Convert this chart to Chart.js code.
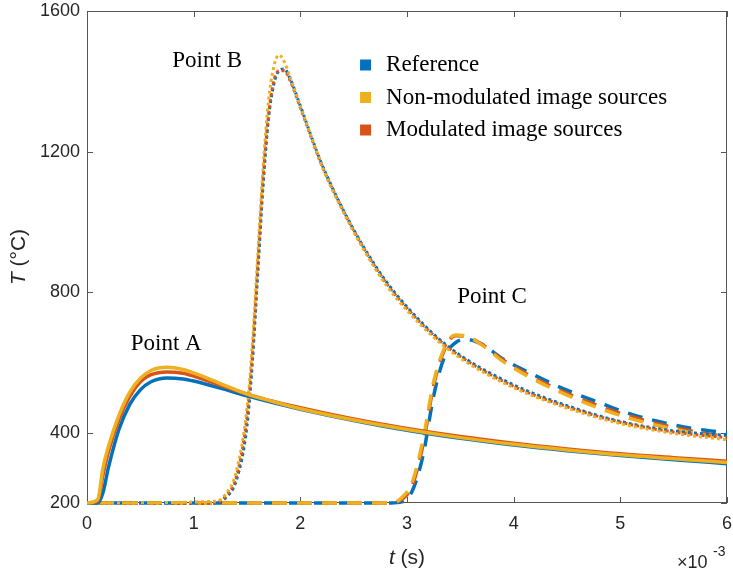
<!DOCTYPE html>
<html>
<head>
<meta charset="utf-8">
<script src="https://cdn.jsdelivr.net/npm/chart.js@4.4.0/dist/chart.umd.min.js"></script>
<style>
  html, body { margin: 0; padding: 0; background: #fff; }
  #wrap { width: 733px; height: 575px; }
</style>
</head>
<body>
<div id="wrap"><canvas id="myChart" width="733" height="575"></canvas></div>
<script>
// time in ms (axis shows x10^-3 s)
const tA = [0, 0.1, 0.15, 0.2, 0.3, 0.4, 0.5, 0.6, 0.75, 0.9, 1.0, 1.25, 1.5, 1.75, 2.0, 2.5, 3.0, 3.5, 4.0, 4.5, 5.0, 5.5, 6.0];
const refA = [200, 200, 230, 300, 410, 480, 522, 545, 556, 553, 547, 527, 505, 485, 467, 435, 407, 384, 365, 349, 335, 323, 312];
const nonModA = [200, 210, 300, 360, 450, 515, 555, 577, 586, 580, 570, 540, 510, 488, 468, 436, 409, 386, 367, 351, 337, 326, 315];
const modA = [200, 205, 280, 345, 438, 503, 545, 565, 573, 569, 561, 535, 510, 489, 471, 439, 412, 389, 370, 354, 340, 329, 319];

const tB = [0, 1.2, 1.3, 1.4, 1.5, 1.55, 1.6, 1.65, 1.7, 1.75, 1.8, 1.85, 1.9, 2.0, 2.1, 2.2, 2.4, 2.6, 2.8, 3.0, 3.25, 3.5, 4.0, 4.5, 5.0, 5.5, 6.0];
const refB = [200, 200, 215, 265, 420, 600, 850, 1100, 1290, 1390, 1430, 1435, 1410, 1330, 1245, 1165, 1035, 925, 832, 758, 680, 620, 536, 477, 432, 405, 392];
const nonModB = [200, 205, 225, 290, 470, 650, 900, 1150, 1340, 1440, 1475, 1455, 1415, 1330, 1245, 1160, 1030, 918, 822, 748, 672, 612, 528, 470, 426, 398, 380];
const modB = [200, 200, 220, 275, 445, 620, 870, 1120, 1300, 1400, 1430, 1430, 1405, 1325, 1242, 1162, 1033, 922, 828, 754, 677, 617, 532, 474, 430, 402, 386];

const tC = [0, 2.85, 2.95, 3.05, 3.15, 3.25, 3.35, 3.45, 3.55, 3.7, 3.9, 4.2, 4.5, 4.8, 5.1, 5.4, 5.7, 6.0];
const refC = [200, 200, 203, 235, 335, 505, 615, 655, 666, 652, 610, 563, 521, 486, 453, 429, 411, 400];
const nonModC = [200, 200, 215, 260, 380, 545, 640, 678, 675, 650, 603, 550, 507, 470, 440, 417, 398, 385];
const modC = [200, 200, 210, 250, 365, 535, 635, 676, 674, 652, 607, 555, 512, 476, 446, 422, 403, 389];

const xTicks = [0, 1, 2, 3, 4, 5, 6];
const yTicks = [200, 400, 800, 1200, 1600];
const seriesNames = ['Reference', 'Non-modulated image sources', 'Modulated image sources'];
const pointLabels = ['Point A', 'Point B', 'Point C'];

const BLUE = '#0072BD', YELLOW = '#EDB120', ORANGE = '#D95319';
const AXIS = '#555555';

function pts(t, v) { return t.map((x, i) => ({ x: x, y: v[i] })); }

function ds(label, t, v, color, kind, offset) {
  const d = {
    label: label,
    data: pts(t, v),
    borderColor: color,
    backgroundColor: color,
    pointRadius: 0,
    fill: false,
    clip: 3,
    cubicInterpolationMode: 'monotone',
    borderCapStyle: 'butt'
  };
  if (kind === 'solid') { d.borderWidth = 3.5; }
  if (kind === 'dot') { d.borderWidth = 3; d.borderDash = [3, 3]; d.borderDashOffset = offset || 0; }
  if (kind === 'dash') { d.borderWidth = 3.5; d.borderDash = [15, 10]; d.borderDashOffset = offset || 0; }
  return d;
}

function noPad(s) { s.paddingLeft = 0; s.paddingRight = 0; s.paddingTop = 0; s.paddingBottom = 0; }

// box and inside ticks go under the lines
const axesBox = {
  id: 'axesBox',
  beforeDatasetsDraw(chart) {
    const c = chart.ctx, a = chart.chartArea;
    const xs = chart.scales.x, ys = chart.scales.y;
    c.save();
    c.strokeStyle = AXIS;
    c.lineWidth = 1;
    c.strokeRect(a.left + 0.5, a.top + 0.5, a.right - a.left - 1, a.bottom - a.top - 1);
    c.beginPath();
    xTicks.forEach(v => {
      const px = Math.round(xs.getPixelForValue(v)) + 0.5;
      c.moveTo(px, a.bottom); c.lineTo(px, a.bottom - 6);
      c.moveTo(px, a.top); c.lineTo(px, a.top + 6);
    });
    yTicks.forEach(v => {
      const py = Math.round(ys.getPixelForValue(v)) + 0.5;
      c.moveTo(a.left, py); c.lineTo(a.left + 6, py);
      c.moveTo(a.right, py); c.lineTo(a.right - 6, py);
    });
    c.stroke();
    c.restore();
  }
};

// titles, annotations and legend
const decor = {
  id: 'decor',
  afterDatasetsDraw(chart) {
    const c = chart.ctx, a = chart.chartArea;
    const xs = chart.scales.x, ys = chart.scales.y;
    c.save();
    c.fillStyle = '#262626';
    c.textBaseline = 'alphabetic';
    const xMid = (a.left + a.right) / 2;
    c.font = 'italic 21px "Liberation Sans", Arial, sans-serif';
    const tW = c.measureText('t').width;
    c.font = '21px "Liberation Sans", Arial, sans-serif';
    const sW = c.measureText(' (s)').width;
    let x0 = xMid - (tW + sW) / 2;
    c.font = 'italic 21px "Liberation Sans", Arial, sans-serif';
    c.textAlign = 'left';
    c.fillText('t', x0, 564);
    c.font = '21px "Liberation Sans", Arial, sans-serif';
    c.fillText(' (s)', x0 + tW, 564);

    c.save();
    c.translate(25, (a.top + a.bottom) / 2);
    c.rotate(-Math.PI / 2);
    c.font = 'italic 21px "Liberation Sans", Arial, sans-serif';
    const TW = c.measureText('T').width;
    c.font = '21px "Liberation Sans", Arial, sans-serif';
    const cW = c.measureText(' (°C)').width;
    x0 = -(TW + cW) / 2;
    c.font = 'italic 21px "Liberation Sans", Arial, sans-serif';
    c.fillText('T', x0, 0);
    c.font = '21px "Liberation Sans", Arial, sans-serif';
    c.fillText(' (°C)', x0 + TW, 0);
    c.restore();

    // exponent label
    c.font = '18px "Liberation Sans", Arial, sans-serif';
    c.textAlign = 'left';
    c.fillText('\u00d710', 677, 568);
    c.font = '14px "Liberation Sans", Arial, sans-serif';
    c.fillText('-3', 713, 556);

    // point annotations
    c.fillStyle = '#000';
    c.font = '23px "Liberation Serif", "Times New Roman", serif';
    c.textBaseline = 'middle';
    c.fillText(pointLabels[0], xs.getPixelForValue(0.41), ys.getPixelForValue(653));
    c.fillText(pointLabels[1], xs.getPixelForValue(0.80), ys.getPixelForValue(1457));
    c.fillText(pointLabels[2], xs.getPixelForValue(3.47), ys.getPixelForValue(785));

    // legend
    const colors = [BLUE, YELLOW, ORANGE];
    const lx = xs.getPixelForValue(2.56);
    seriesNames.forEach((name, i) => {
      const ly = a.top + 54 + i * 32.5;
      c.fillStyle = colors[i];
      c.fillRect(lx, ly - 5.5, 11, 11);
      c.fillStyle = '#000';
      c.fillText(name, lx + 26, ly);
    });
    c.restore();
  }
};

// Chart.js paints dataset 0 last, so yellow comes first to sit on top
const ctx = document.getElementById('myChart').getContext('2d');
const myChart = new Chart(ctx, {
  type: 'line',
  data: {
    datasets: [
      ds(seriesNames[1], tA, nonModA, YELLOW, 'solid'),
      ds(seriesNames[2], tA, modA, ORANGE, 'solid'),
      ds(seriesNames[0], tA, refA, BLUE, 'solid'),
      ds(seriesNames[1], tB, nonModB, YELLOW, 'dot', 0),
      ds(seriesNames[2], tB, modB, ORANGE, 'dot', 0),
      ds(seriesNames[0], tB, refB, BLUE, 'dot', 0),
      ds(seriesNames[1], tC, nonModC, YELLOW, 'dash', 15),
      ds(seriesNames[2], tC, modC, ORANGE, 'dash', 15),
      ds(seriesNames[0], tC, refC, BLUE, 'dash', 23)
    ]
  },
  options: {
    responsive: false,
    animation: false,
    layout: { padding: { top: 11, right: 6, left: 0, bottom: 0 } },
    plugins: {
      legend: { display: false },
      tooltip: { enabled: false }
    },
    scales: {
      x: {
        type: 'linear',
        min: 0, max: 6,
        border: { display: false },
        grid: { display: false, drawTicks: false },
        afterBuildTicks: s => { s.ticks = xTicks.map(v => ({ value: v })); },
        afterFit: s => { s.height = 72; noPad(s); },
        ticks: {
          color: '#262626',
          padding: 10,
          maxRotation: 0,
          callback: v => String(v),
          font: { family: '"Liberation Sans", Arial, sans-serif', size: 18 }
        }
      },
      y: {
        type: 'linear',
        min: 200, max: 1600,
        border: { display: false },
        grid: { display: false, drawTicks: false },
        afterBuildTicks: s => { s.ticks = yTicks.map(v => ({ value: v })); },
        afterFit: s => { s.width = 87; noPad(s); },
        ticks: {
          color: '#262626',
          padding: 7,
          callback: v => String(v),
          font: { family: '"Liberation Sans", Arial, sans-serif', size: 18 }
        }
      }
    }
  },
  plugins: [axesBox, decor]
});
</script>
</body>
</html>
